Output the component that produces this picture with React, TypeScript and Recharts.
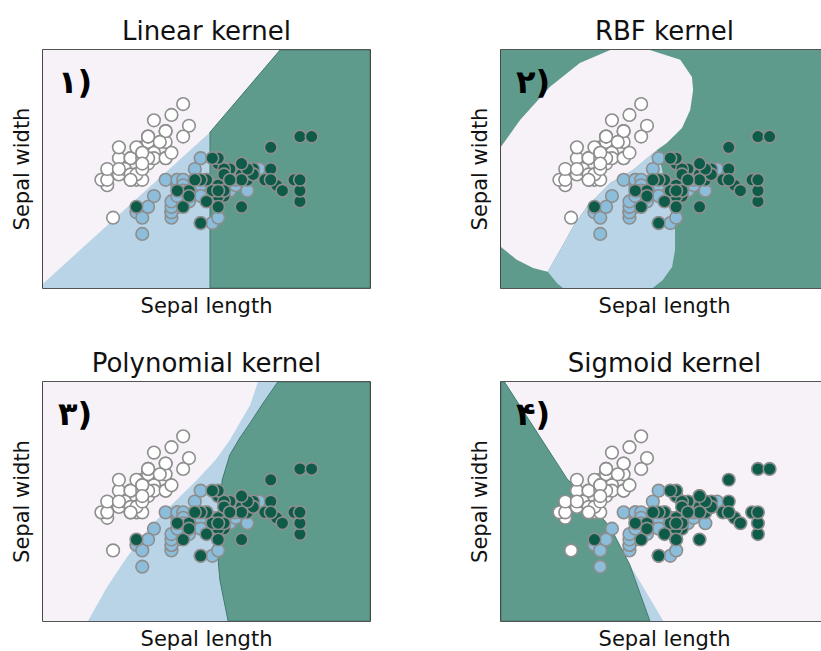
import { ScatterChart, Scatter, XAxis, YAxis, ReferenceArea } from 'recharts'

// iris: sepal length / sepal width, per class
const setosaLength = [5.1, 4.9, 4.7, 4.6, 5.0, 5.4, 4.6, 5.0, 4.4, 4.9, 5.4, 4.8, 4.8, 4.3, 5.8, 5.7, 5.4, 5.1, 5.7, 5.1, 5.4, 5.1, 4.6, 5.1, 4.8, 5.0, 5.0, 5.2, 5.2, 4.7, 4.8, 5.4, 5.2, 5.5, 4.9, 5.0, 5.5, 4.9, 4.4, 5.1, 5.0, 4.5, 4.4, 5.0, 5.1, 4.8, 5.1, 4.6, 5.3, 5.0]
const setosaWidth = [3.5, 3.0, 3.2, 3.1, 3.6, 3.9, 3.4, 3.4, 2.9, 3.1, 3.7, 3.4, 3.0, 3.0, 4.0, 4.4, 3.9, 3.5, 3.8, 3.8, 3.4, 3.7, 3.6, 3.3, 3.4, 3.0, 3.4, 3.5, 3.4, 3.2, 3.1, 3.4, 4.1, 4.2, 3.1, 3.2, 3.5, 3.6, 3.0, 3.4, 3.5, 2.3, 3.2, 3.5, 3.8, 3.0, 3.8, 3.2, 3.7, 3.3]
const versicolorLength = [7.0, 6.4, 6.9, 5.5, 6.5, 5.7, 6.3, 4.9, 6.6, 5.2, 5.0, 5.9, 6.0, 6.1, 5.6, 6.7, 5.6, 5.8, 6.2, 5.6, 5.9, 6.1, 6.3, 6.1, 6.4, 6.6, 6.8, 6.7, 6.0, 5.7, 5.5, 5.5, 5.8, 6.0, 5.4, 6.0, 6.7, 6.3, 5.6, 5.5, 5.5, 6.1, 5.8, 5.0, 5.6, 5.7, 5.7, 6.2, 5.1, 5.7]
const versicolorWidth = [3.2, 3.2, 3.1, 2.3, 2.8, 2.8, 3.3, 2.4, 2.9, 2.7, 2.0, 3.0, 2.2, 2.9, 2.9, 3.1, 3.0, 2.7, 2.2, 2.5, 3.2, 2.8, 2.5, 2.8, 2.9, 3.0, 2.8, 3.0, 2.9, 2.6, 2.4, 2.4, 2.7, 2.7, 3.0, 3.4, 3.1, 2.3, 3.0, 2.5, 2.6, 3.0, 2.6, 2.3, 2.7, 3.0, 2.9, 2.9, 2.5, 2.8]
const virginicaLength = [6.3, 5.8, 7.1, 6.3, 6.5, 7.6, 4.9, 7.3, 6.7, 7.2, 6.5, 6.4, 6.8, 5.7, 5.8, 6.4, 6.5, 7.7, 7.7, 6.0, 6.9, 5.6, 7.7, 6.3, 6.7, 7.2, 6.2, 6.1, 6.4, 7.2, 7.4, 7.9, 6.4, 6.3, 6.1, 7.7, 6.3, 6.4, 6.0, 6.9, 6.7, 6.9, 5.8, 6.8, 6.7, 6.7, 6.3, 6.5, 6.2, 5.9]
const virginicaWidth = [3.3, 2.7, 3.0, 2.9, 3.0, 3.0, 2.5, 2.9, 2.5, 3.6, 3.2, 2.7, 3.0, 2.5, 2.8, 3.2, 3.0, 3.8, 2.6, 2.2, 3.2, 2.8, 2.8, 2.7, 3.3, 3.2, 2.8, 3.0, 2.8, 3.0, 2.8, 3.8, 2.8, 2.8, 2.6, 3.0, 3.4, 3.1, 3.0, 3.1, 3.1, 3.1, 2.7, 3.2, 3.3, 3.0, 2.5, 3.0, 3.4, 3.0]

const X_DOMAIN: [number, number] = [3.3, 8.9]
const Y_DOMAIN: [number, number] = [1.0, 5.4]

// decision regions, [sepal length, sepal width] outlines
const fullBox = [[3.3, 1.0], [3.3, 5.4], [8.9, 5.4], [8.9, 1.0]]

const linearBlue = [[3.3, 1.0], [3.3, 1.08], [6.16, 3.88], [6.16, 1.0]]
const linearTeal = [[6.16, 1.0], [6.16, 3.88], [7.36, 5.4], [8.9, 5.4], [8.9, 1.0]]

const rbfLavender = [
  [3.3, 3.61], [3.63, 4.11], [4.14, 4.72], [4.65, 5.16], [5.17, 5.4], [5.85, 5.4], [6.37, 5.22],
  [6.57, 4.9], [6.59, 4.66], [6.54, 4.29], [6.4, 3.96], [6.14, 3.68], [5.97, 3.55], [5.56, 3.18],
  [5.17, 2.94], [4.77, 2.5], [4.53, 2.13], [4.31, 1.7], [4.1, 1.3], [3.85, 1.37], [3.57, 1.52], [3.3, 1.76],
]
const rbfBlue = [
  [5.97, 3.55], [5.56, 3.18], [5.17, 2.94], [4.77, 2.5], [4.53, 2.13], [4.31, 1.7], [4.1, 1.3],
  [4.26, 1.09], [4.36, 1.0], [5.9, 1.0], [6.07, 1.15], [6.23, 1.39], [6.28, 1.7], [6.28, 2.07],
  [6.19, 2.5], [6.11, 2.94], [6.02, 3.37],
]

const polyBlue = [
  [4.07, 1.0], [4.4, 1.63], [4.74, 2.18], [5.13, 2.73], [5.53, 3.17], [5.94, 3.6], [6.25, 3.96],
  [6.5, 4.33], [6.67, 4.65], [6.85, 4.98], [6.98, 5.4], [8.9, 5.4], [8.9, 1.0],
]
const polyTeal = [
  [6.47, 1.0], [6.33, 1.75], [6.28, 2.36], [6.3, 2.99], [6.37, 3.6], [6.5, 4.06], [6.67, 4.37],
  [6.85, 4.65], [7.05, 4.98], [7.32, 5.4], [8.9, 5.4], [8.9, 1.0],
]

const sigmoidTeal = [[3.3, 1.0], [3.3, 5.4], [3.36, 5.4], [4.43, 3.62], [5.17, 2.73], [5.5, 2.05], [5.85, 1.0]]
const sigmoidBlue = [[5.5, 2.05], [6.08, 1.0], [5.85, 1.0]]

const titles = ['Linear kernel', 'RBF kernel', 'Polynomial kernel', 'Sigmoid kernel']
const tags = ['۱)', '۲)', '۳)', '۴)']

const LAVENDER = '#f6f2f8'
const BLUE = '#b8d4e6'
const TEAL = '#5f9b8d'
const TEAL_EDGE = '#3e7a70'

const toPoints = (xs: number[], ys: number[]) => xs.map((x, i) => ({ x, y: ys[i] }))
const setosa = toPoints(setosaLength, setosaWidth)
const versicolor = toPoints(versicolorLength, versicolorWidth)
const virginica = toPoints(virginicaLength, virginicaWidth)

const panels = [
  { left: 0, top: 0, regions: [{ pts: fullBox, fill: LAVENDER }, { pts: linearBlue, fill: BLUE }, { pts: linearTeal, fill: TEAL, edge: TEAL_EDGE }] },
  { left: 458, top: 0, regions: [{ pts: fullBox, fill: TEAL }, { pts: rbfLavender, fill: LAVENDER }, { pts: rbfBlue, fill: BLUE }] },
  { left: 0, top: 332, regions: [{ pts: fullBox, fill: LAVENDER }, { pts: polyBlue, fill: BLUE }, { pts: polyTeal, fill: TEAL, edge: TEAL_EDGE }] },
  { left: 458, top: 332, regions: [{ pts: fullBox, fill: LAVENDER }, { pts: sigmoidBlue, fill: BLUE }, { pts: sigmoidTeal, fill: TEAL, edge: TEAL_EDGE }] },
]

const polyPath = (pts: { x: number; y: number }[]) =>
  pts.map((p, i) => `${i ? 'L' : 'M'}${p.x},${p.y}`).join('') + 'Z'

const dot = (fill: string) => (s: any) => (
  <circle cx={s.cx} cy={s.cy} r={6.3} fill={fill} stroke="#8e8e8e" strokeWidth={1.6} />
)

function Panel({ idx }: { idx: number }) {
  const p = panels[idx]
  const h = idx < 2 ? 318 : 319
  return (
    <div style={{ position: 'absolute', left: p.left, top: p.top }}>
      <ScatterChart width={380} height={h} margin={{ top: 50, right: 10, bottom: 0, left: 0 }}>
        <XAxis
          type="number"
          dataKey="x"
          domain={X_DOMAIN}
          allowDataOverflow
          tick={false}
          tickLine={false}
          axisLine={false}
          height={30}
          label={{ value: 'Sepal length', position: 'insideBottom', offset: 5, fill: '#111', fontSize: 21 }}
        />
        <YAxis
          type="number"
          dataKey="y"
          domain={Y_DOMAIN}
          allowDataOverflow
          tick={false}
          tickLine={false}
          axisLine={false}
          width={43}
          label={{ value: 'Sepal width', angle: -90, position: 'center', fill: '#111', fontSize: 21 }}
        />
        {p.regions.map((r: any, i) => (
          <Scatter
            key={i}
            data={r.pts.map(([x, y]: number[]) => ({ x, y }))}
            fill={r.fill}
            isAnimationActive={false}
            shape={() => <g />}
            line={(lp: any) => (
              <path d={polyPath(lp.points)} fill={r.fill} stroke={r.edge ?? 'none'} strokeWidth={1} />
            )}
          />
        ))}
        <Scatter data={setosa} isAnimationActive={false} shape={dot('#ffffff')} />
        <Scatter data={versicolor} isAnimationActive={false} shape={dot('#8cbedc')} />
        <Scatter data={virginica} isAnimationActive={false} shape={dot('#0e5b4a')} />
        <ReferenceArea x1={3.3} x2={8.9} y1={1.0} y2={5.4} fill="none" stroke="#1c1c1c" strokeWidth={1.6} ifOverflow="visible" />
      </ScatterChart>
    </div>
  )
}

export default function App() {
  return (
    <div
      style={{
        position: 'absolute',
        left: 0,
        top: 0,
        width: 821,
        height: 651,
        overflow: 'hidden',
        background: '#fff',
        fontFamily: "'DejaVu Sans', sans-serif",
      }}
    >
      {[0, 1, 2, 3].map((i) => (
        <Panel key={i} idx={i} />
      ))}
      <svg width={821} height={651} style={{ position: 'absolute', left: 0, top: 0, pointerEvents: 'none' }}>
        {panels.map((p, i) => (
          <g key={i}>
            <text x={p.left + 43 + 163.5} y={p.top + 40} textAnchor="middle" fontSize={26} fill="#111">
              {titles[i]}
            </text>
            <text x={p.left + 43 + 15} y={p.top + 50 + 43} fontSize={32} fontWeight="bold" fill="#000" direction="ltr">
              {tags[i]}
            </text>
          </g>
        ))}
      </svg>
    </div>
  )
}
